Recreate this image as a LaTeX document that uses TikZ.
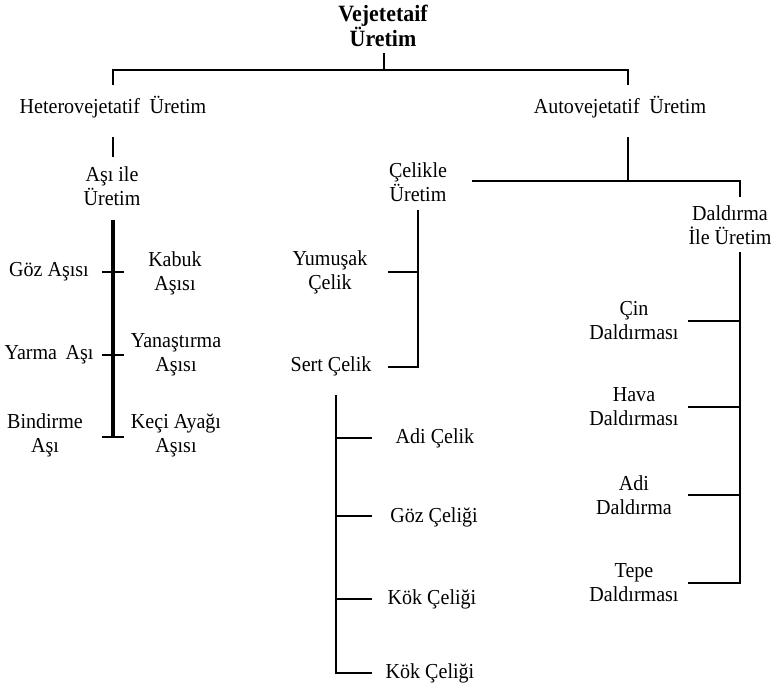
\documentclass[tikz,border=0pt]{standalone}
\usepackage{fontspec}
\setmainfont[FakeStretch=0.94]{Liberation Serif}
\begin{document}
\begin{tikzpicture}[x=0.75pt,y=-0.75pt,
  lbl/.style={inner sep=0pt, align=center, font=\fontsize{16}{18}\selectfont},
  link/.style={line width=1.4pt},
  trunk/.style={line width=2.3pt}]
\useasboundingbox (0,0) rectangle (778,690);

% ---- labels ----
\node[lbl, font=\fontsize{17.5}{18.5}\selectfont\bfseries] (title) at (383,26) {Vejetetaif\\Üretim};
\node[lbl] (het)  at (113,107) {Heterovejetatif\hspace{0.45em}Üretim};
\node[lbl] (auto) at (620,107) {Autovejetatif\hspace{0.45em}Üretim};

\node[lbl] (asi)   at (112,186) {Aşı ile\\Üretim};
\node[lbl] (goz)   at (49,272)  {Göz Aşısı};
\node[lbl] (kabuk) at (175,273) {Kabuk\\Aşısı};
\node[lbl] (yarma) at (49,355)  {Yarma\hspace{0.4em}Aşı};
\node[lbl] (yanas) at (176,355) {Yanaştırma\\Aşısı};
\node[lbl] (bind)  at (45,435)  {Bindirme\\Aşı};
\node[lbl] (keci)  at (176,435) {Keçi Ayağı\\Aşısı};

\node[lbl] (celikle) at (418,182) {Çelikle\\Üretim};
\node[lbl] (yumusak) at (330,272) {Yumuşak\\Çelik};
\node[lbl] (sert)    at (331,366) {Sert Çelik};
\node[lbl] (adi)     at (435,438) {Adi Çelik};
\node[lbl] (gozc)    at (434,517) {Göz Çeliği};
\node[lbl] (kok1)    at (432,599) {Kök Çeliği};
\node[lbl] (kok2)    at (430,673) {Kök Çeliği};

\node[lbl] (dald) at (730,225) {Daldırma\\İle Üretim};
\node[lbl] (cin)  at (634,321) {Çin\\Daldırması};
\node[lbl] (hava) at (634,407) {Hava\\Daldırması};
\node[lbl] (adid) at (634,495) {Adi\\Daldırma};
\node[lbl] (tepe) at (634,583) {Tepe\\Daldırması};

% ---- junction points ----
\coordinate (t0) at (384,53);  \coordinate (t1) at (384,70);
\coordinate (bl0) at (113,85); \coordinate (bl1) at (113,70);
\coordinate (br0) at (628,85); \coordinate (br1) at (628,70);

\coordinate (h0) at (113,137); \coordinate (h1) at (113,157);
\coordinate (a0) at (113,220); \coordinate (a1) at (113,437);
\coordinate (g0) at (102,272); \coordinate (g1) at (124,272);
\coordinate (y0) at (102,355); \coordinate (y1) at (124,355);
\coordinate (b0) at (102,437); \coordinate (b1) at (124,437);

\coordinate (u0) at (628,137); \coordinate (u1) at (628,181);
\coordinate (c0) at (472,181); \coordinate (c1) at (740,181); \coordinate (c2) at (740,197);

\coordinate (s0) at (418,210); \coordinate (s1) at (418,367);
\coordinate (m0) at (388,272); \coordinate (m1) at (418,272);
\coordinate (n0) at (388,367);

\coordinate (k0) at (336,395); \coordinate (k1) at (336,673);
\coordinate (e1) at (336,438); \coordinate (e2) at (336,516);
\coordinate (e3) at (336,599);
\coordinate (f1) at (372,438); \coordinate (f2) at (372,516);
\coordinate (f3) at (372,599); \coordinate (f4) at (372,673);

\coordinate (d0) at (740,252); \coordinate (d1) at (740,583);
\coordinate (p1) at (740,321); \coordinate (p2) at (740,407);
\coordinate (p3) at (740,495);
\coordinate (q1) at (688,321); \coordinate (q2) at (688,407);
\coordinate (q3) at (688,495); \coordinate (q4) at (688,583);

% ---- connectors ----
\draw[link] (t0) -- (t1);
\draw[link] (bl0) -- (bl1) -- (br1) -- (br0);

\draw[link] (h0) -- (h1);
\draw[trunk] (a0) -- (a1);
\draw[link] (g0) -- (g1);
\draw[link] (y0) -- (y1);
\draw[link] (b0) -- (b1);

\draw[link] (u0) -- (u1);
\draw[link] (c0) -- (c1) -- (c2);

\draw[link] (s0) -- (s1) -- (n0);
\draw[link] (m0) -- (m1);

\draw[link] (k0) -- (k1) -- (f4);
\draw[link] (e1) -- (f1);
\draw[link] (e2) -- (f2);
\draw[link] (e3) -- (f3);

\draw[link] (d0) -- (d1) -- (q4);
\draw[link] (p1) -- (q1);
\draw[link] (p2) -- (q2);
\draw[link] (p3) -- (q3);
\end{tikzpicture}
\end{document}
